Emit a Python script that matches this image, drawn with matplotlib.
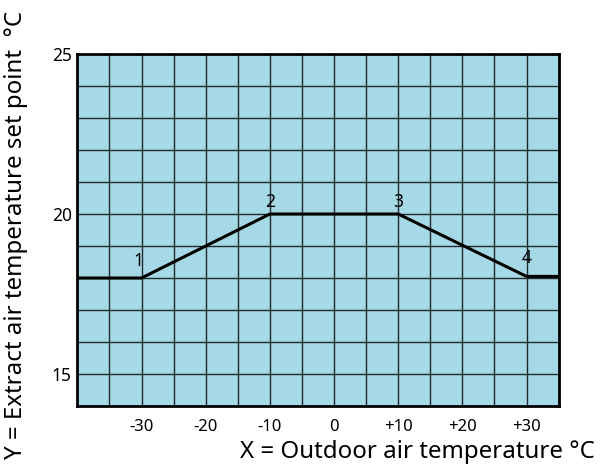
import matplotlib
matplotlib.use("Agg")
import matplotlib.pyplot as plt

# Data
curve_x = [-40, -30, -10, 10, 30, 35]
curve_y = [18, 18, 20, 20, 18.05, 18.05]
point_labels = ["1", "2", "3", "4"]
point_x = [-30, -10, 10, 30]
point_y = [18, 20, 20, 18.05]
xticks = [-30, -20, -10, 0, 10, 20, 30]
xtick_labels = ["-30", "-20", "-10", "0", "+10", "+20", "+30"]
yticks = [15, 20, 25]
ytick_labels = ["15", "20", "25"]

# label offsets in points (style, not data)
label_offsets = [(-2, 6), (0, 2), (0, 2), (0, 7)]

plt.rcParams['font.family'] = ['Noto Sans', 'DejaVu Sans']

fig = plt.figure(figsize=(6, 4.72), dpi=100)
ax = fig.add_axes([0.129, 0.1398, 0.802, 0.7458])
ax.set_facecolor('#a6d9e6')
ax.set_xlim(-40, 35)
ax.set_ylim(14, 25)

# grid
for gx in range(-35, 35, 5):
    ax.axvline(gx, color='#1e2a2e', lw=1.0, zorder=1)
for gy in range(15, 25):
    ax.axhline(gy, color='#1e2a2e', lw=1.0, zorder=1)

ax.plot(curve_x, curve_y, color='black', lw=2.2, zorder=3, solid_capstyle='butt')

for lab, px, py, off in zip(point_labels, point_x, point_y, label_offsets):
    ax.annotate(lab, (px, py), xytext=off, textcoords='offset points',
                ha='center', va='bottom', fontsize=12.5, zorder=4)

ax.set_xticks(xticks)
ax.set_xticklabels(xtick_labels, fontsize=12)
ax.set_yticks(yticks)
ax.set_yticklabels(ytick_labels, fontsize=12.5)
ax.tick_params(axis='x', length=0, pad=9)
ax.tick_params(axis='y', length=0, pad=4)
for s in ax.spines.values():
    s.set_linewidth(2)
    s.set_color('black')

fig.text(0.992, 0.03, "X = Outdoor air temperature °C", ha='right', va='baseline', fontsize=17.3)
fig.text(0.027, 0.502, "Y = Extract air temperature set point  °C", ha='center', va='center',
         rotation=90, fontsize=17.3)

fig.savefig("out.png", dpi=100)
